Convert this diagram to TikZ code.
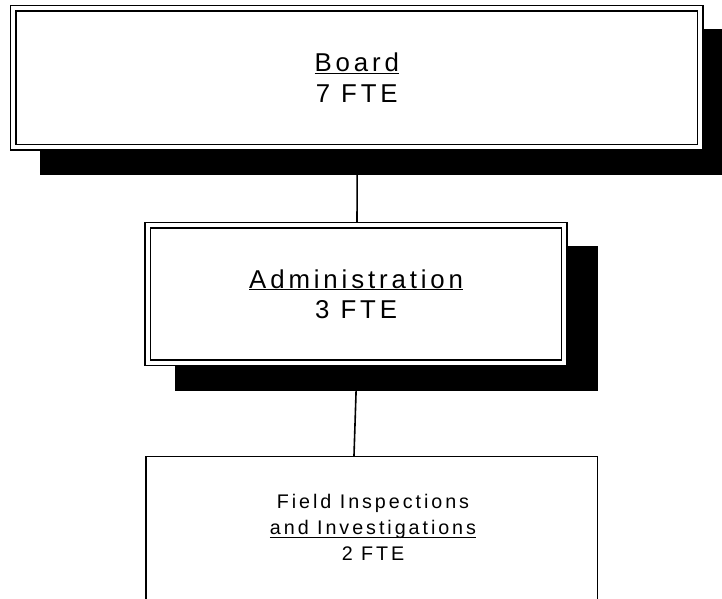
\documentclass[tikz,border=0pt]{standalone}
\usepackage{fontspec}
\setmainfont{Liberation Sans}[LetterSpace=15]
\usetikzlibrary{backgrounds}
\newlength\ulwd
\newcommand\ulin[2]{\settowidth\ulwd{#2}\rlap{\rule[-#1]{\ulwd}{1.4pt}}#2}
\begin{document}
\begin{tikzpicture}[x=1pt,y=-1pt,
  dbox/.style={draw, line width=1.5pt, double=white, double distance=4pt,
    fill=white, inner sep=0pt, outer sep=0pt, align=center},
  sbox/.style={draw, line width=1.5pt, fill=white, inner sep=0pt, outer sep=0pt},
  shadowfill/.style={fill=black},
  link/.style={line width=1.6pt},
  bigtext/.style={font=\fontsize{25.8}{31}\selectfont},
  smalltext/.style={font=\fontsize{19.7}{25.8}\selectfont, align=center, inner sep=0pt}]
\useasboundingbox (0,0) rectangle (722,598);

\node[dbox, bigtext, minimum width=687pt, minimum height=139pt] (board)
  at (356.75,77.75) {\ulin{2.3pt}{Board}\\7 FTE};
\node[dbox, font=\fontsize{25.8}{30}\selectfont, minimum width=416.75pt, minimum height=137.75pt] (admin)
  at (356.1,293.9) {\ulin{2.3pt}{Administration}\\3 FTE};
\node[sbox, minimum width=451.3pt, minimum height=183.3pt] (field)
  at (371.65,548.35) {};
\node[smalltext] (fieldtext) at (373,527.5)
  {Field Inspections\\\ulin{3.5pt}{and Investigations}\\2 FTE};

\begin{scope}[on background layer]
  \draw[link] ([xshift=0.5pt]board.south) -- ([xshift=0.9pt]admin.north);
  \draw[link] ([xshift=0.9pt]admin.south) -- ([xshift=-17.7pt]field.north);
  \fill[shadowfill] (40,29) rectangle (733,175);
  \fill[shadowfill] (175,245.5) rectangle (598.3,391);
\end{scope}
\end{tikzpicture}
\end{document}
